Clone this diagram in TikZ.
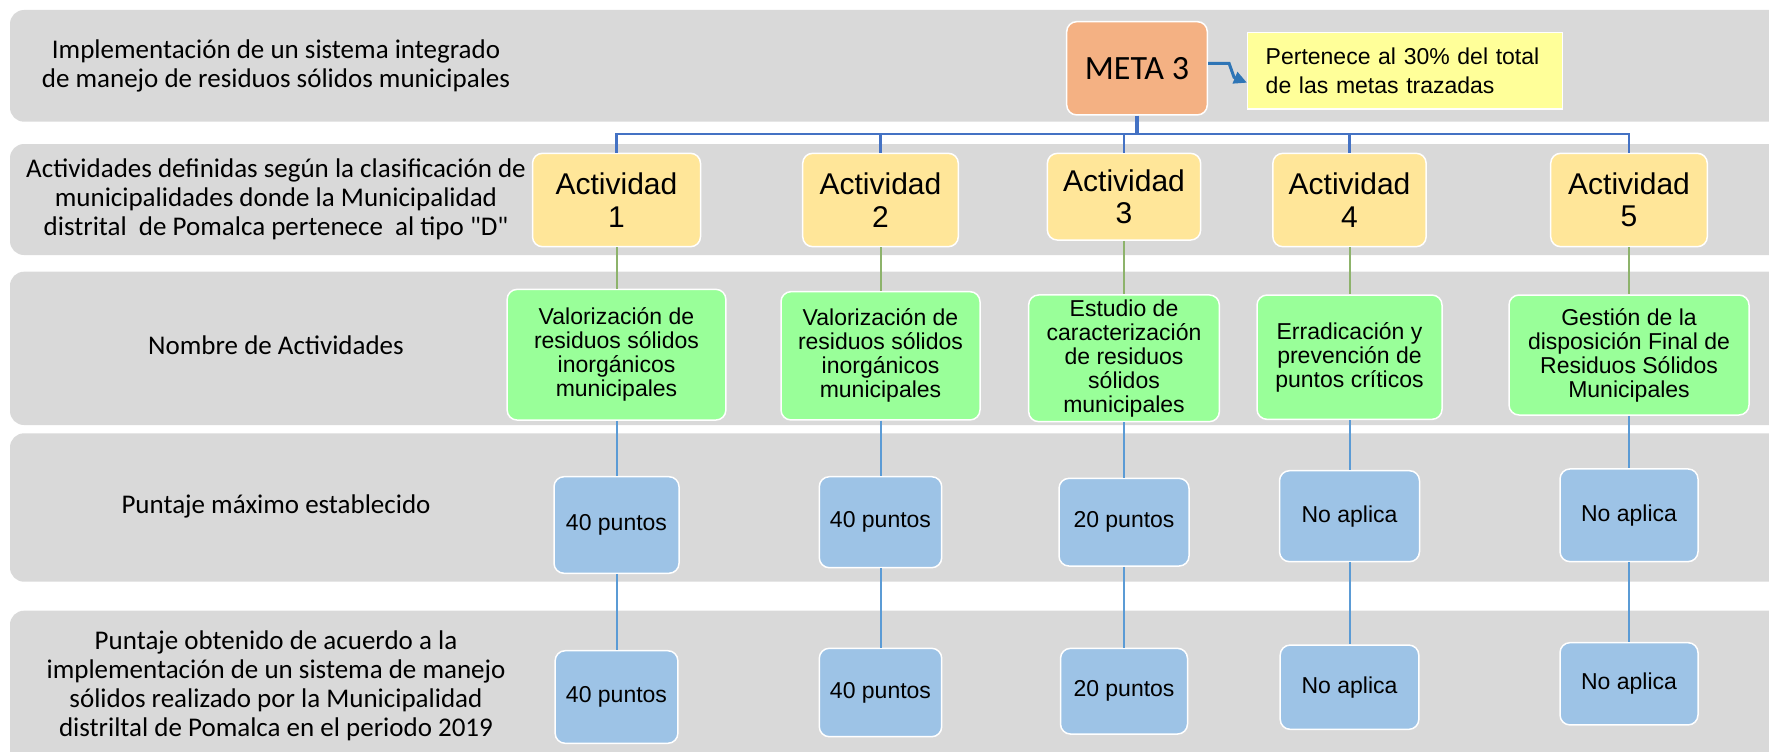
\documentclass[tikz,border=0pt]{standalone}
\usepackage{fontspec}
\usetikzlibrary{arrows.meta}
\newfontfamily\lblfont{Carlito}[Ligatures=TeXOff]
\newfontfamily\arialfont{Liberation Sans}
\definecolor{bandgray}{HTML}{D9D9D9}
\definecolor{metafill}{HTML}{F4B183}
\definecolor{notefill}{HTML}{FFFF99}
\definecolor{actfill}{HTML}{FFE699}
\definecolor{namefill}{HTML}{99FF99}
\definecolor{ptsfill}{HTML}{9DC3E6}
\definecolor{treeblue}{HTML}{4472C4}
\definecolor{arrowblue}{HTML}{2E75B6}
\definecolor{greenline}{HTML}{8DB36B}
\definecolor{lightblueline}{HTML}{5B9BD5}
\begin{document}
\begin{tikzpicture}[x=1pt,y=-1pt,
  band/.style={fill=bandgray, rounded corners=14pt},
  lbl/.style={font={\lblfont\fontsize{27}{29}\selectfont}, align=center, inner sep=0pt},
  box/.style={draw=white, line width=1.5pt, rounded corners=10pt, inner sep=0pt, align=center, text=black},
  sz/.style 2 args={minimum width=#1pt, minimum height=#2pt},
  metabox/.style={box, fill=metafill, font={\lblfont\fontsize{34}{40}\selectfont}},
  notebox/.style={draw=white, line width=1.5pt, fill=notefill, inner xsep=18pt, inner ysep=0pt, align=left, text width=279pt, minimum height=76.7pt, font={\arialfont\fontsize{23}{28.7}\selectfont}},
  actbox/.style={box, fill=actfill, font={\arialfont\fontsize{30}{32.5}\selectfont}},
  namebox/.style={box, fill=namefill, font={\arialfont\fontsize{23}{24}\selectfont}},
  ptsbox/.style={box, fill=ptsfill, font={\arialfont\fontsize{23}{26}\selectfont}},
  tree/.style={draw=treeblue, line width=2.5pt},
  gline/.style={draw=greenline, line width=2pt},
  bline/.style={draw=lightblueline, line width=2pt},
  metaarrow/.style={draw=arrowblue, line width=3pt, -{Triangle[length=13pt,width=12pt]}}
]
\path[use as bounding box] (0,0) rectangle (1769,752);
\clip (0,0) rectangle (1769,752);

% bands
\fill[band] (10,10) rectangle (1800,121.7);
\fill[band] (10,144) rectangle (1800,255);
\fill[band] (10,271.7) rectangle (1800,425);
\fill[band] (10,433.3) rectangle (1800,581.7);
\fill[band] (10,610.7) rectangle (1800,800);

% row labels
\node[lbl] (t1) at (276,66) {Implementación de un sistema integrado\\de manejo de residuos sólidos municipales};
\node[lbl] (t2) at (276,199.5) {Actividades definidas según la clasificación de\\municipalidades donde la Municipalidad\\distrital\ \ de Pomalca pertenece\ \ al tipo "D"};
\node[lbl] (t3) at (276,345) {Nombre de Actividades};
\node[lbl] (t4) at (276,506) {Puntaje máximo establecido};
\node[lbl] (t5) at (276,686) {Puntaje obtenido de acuerdo a la\\implementación de un sistema de manejo\\sólidos realizado por la Municipalidad\\distriltal de Pomalca en el periodo 2019};

% meta and note
\node[metabox, sz={140.6}{93.3}] (meta) at (1137,68.3) {META 3};
\node[notebox] (note) at (1405.2,70.7) {Pertenece al 30\% del total\\de las metas trazadas};

% activities
\node[actbox, sz={168}{93.4}] (a1) at (616.5,200) {Actividad\\1};
\node[actbox, sz={155.6}{93.4}] (a2) at (880.5,200) {Actividad\\2};
\node[actbox, sz={153.3}{86.7}] (a3) at (1124,196.7) {Actividad\\3};
\node[actbox, sz={153.3}{93.4}] (a4) at (1349.5,200) {Actividad\\4};
\node[actbox, sz={156.6}{93.4}] (a5) at (1629,200) {Actividad\\5};

% names
\node[namebox, sz={218.7}{130.7}] (g1) at (616.5,354.7) {Valorización de\\residuos sólidos\\inorgánicos\\municipales};
\node[namebox, sz={199}{128.3}] (g2) at (880.5,355.8) {Valorización de\\residuos sólidos\\inorgánicos\\municipales};
\node[namebox, sz={190.7}{126.7}] (g3) at (1124,358.3) {Estudio de\\caracterización\\de residuos\\sólidos\\municipales};
\node[namebox, sz={185}{124.3}] (g4) at (1349.5,357.2) {Erradicación y\\prevención de\\puntos críticos};
\node[namebox, sz={240}{120}] (g5) at (1629,355) {Gestión de la\\disposición Final de\\Residuos Sólidos\\Municipales};

% max points
\node[ptsbox, sz={125}{96.6}] (p1) at (616.5,525) {40 puntos};
\node[ptsbox, sz={122.4}{91}] (p2) at (880.5,522.2) {40 puntos};
\node[ptsbox, sz={130}{87.7}] (p3) at (1124,522.2) {20 puntos};
\node[ptsbox, sz={140}{91}] (p4) at (1349.5,516.2) {No aplica};
\node[ptsbox, sz={138}{92.7}] (p5) at (1629,515.3) {No aplica};

% obtained points
\node[ptsbox, sz={122.7}{92.6}] (q1) at (616.5,697) {40 puntos};
\node[ptsbox, sz={122.4}{88.4}] (q2) at (880.5,692.5) {40 puntos};
\node[ptsbox, sz={127}{85.7}] (q3) at (1124,691.2) {20 puntos};
\node[ptsbox, sz={138.6}{84.3}] (q4) at (1349.5,687.2) {No aplica};
\node[ptsbox, sz={138}{82.3}] (q5) at (1629,683.8) {No aplica};

% connectors
\draw[metaarrow] ([yshift=5pt]meta.east) -- ++(21,0) -- ++(5,14) -- ([yshift=-12pt]note.west);
\draw[tree, line width=3.2pt] (meta.south) -- ++(0,18.3) coordinate (hub);
\foreach \n in {a1,a2,a3,a4,a5} \draw[tree] (hub) -| (\n.north);
\foreach \i in {1,2,3,4,5} {
  \draw[gline] (a\i.south) -- (g\i.north);
  \draw[bline] (g\i.south) -- (p\i.north);
  \draw[bline] (p\i.south) -- (q\i.north);
}
\end{tikzpicture}
\end{document}
